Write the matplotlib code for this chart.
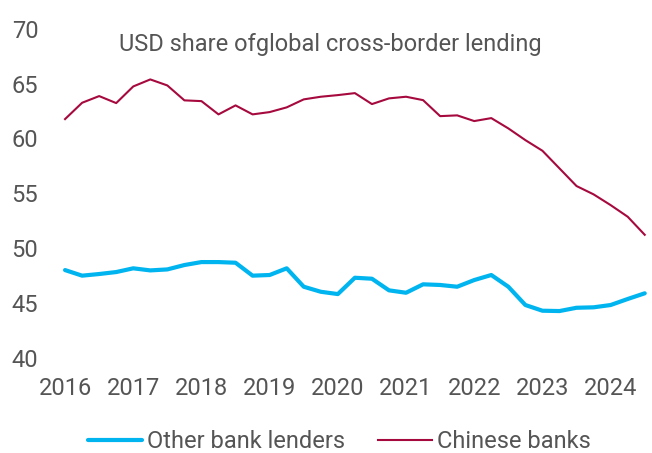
import numpy as np
import matplotlib
matplotlib.use('Agg')
import matplotlib.pyplot as plt

# quarterly observations, 2016Q1 - 2024Q3
quarters = np.arange(2016, 2024.51, 0.25)

other_banks = [47.98, 47.47, 47.62, 47.80, 48.14, 47.95, 48.04, 48.44, 48.71,
               48.71, 48.65, 47.47, 47.53, 48.14, 46.46, 46.00, 45.79, 47.28,
               47.19, 46.13, 45.91, 46.68, 46.62, 46.46, 47.07, 47.53, 46.46,
               44.79, 44.27, 44.24, 44.54, 44.58, 44.79, 45.34, 45.86]

chinese_banks = [61.76, 63.25, 63.86, 63.22, 64.74, 65.38, 64.83, 63.47, 63.40,
                 62.19, 63.01, 62.19, 62.40, 62.83, 63.56, 63.80, 63.95, 64.13,
                 63.13, 63.65, 63.80, 63.49, 62.03, 62.10, 61.58, 61.85, 60.91,
                 59.84, 58.87, 57.26, 55.65, 54.89, 53.91, 52.85, 51.20]

years = [2016, 2017, 2018, 2019, 2020, 2021, 2022, 2023, 2024]
yticks = [40, 45, 50, 55, 60, 65, 70]

plt.rcParams['font.family'] = ['Roboto', 'DejaVu Sans']
txt = '#555555'

fig = plt.figure(figsize=(6.52, 4.53), dpi=100)
ax = fig.add_axes([0.0844, 0.2108, 0.9126, 0.7256])

ax.plot(quarters, other_banks, c='#00B5EF', lw=3.0, label='Other bank lenders',
        solid_capstyle='round', solid_joinstyle='round')
ax.plot(quarters, chinese_banks, c='#A6093D', lw=1.5, label='Chinese banks')

ax.set_xlim(2015.853, 2024.578)
ax.set_ylim(40, 70)
ax.set_xticks(years)
ax.set_xticklabels([str(y) for y in years])
ax.set_yticks(yticks)
for s in ax.spines.values():
    s.set_visible(False)
ax.tick_params(length=0, labelsize=17, labelcolor=txt)
ax.tick_params(axis='x', pad=14)
ax.tick_params(axis='y', pad=12)

fig.text(0.506, 0.928, 'USD share ofglobal cross-border lending',
         ha='center', va='top', fontsize=17, color=txt)

fig.legend(loc='center', bbox_to_anchor=(0.52, 0.025), ncol=2, frameon=False,
           fontsize=17, labelcolor=txt, handlelength=2.3, handletextpad=0.2,
           columnspacing=1.4)

plt.savefig('out.png', dpi=100)
